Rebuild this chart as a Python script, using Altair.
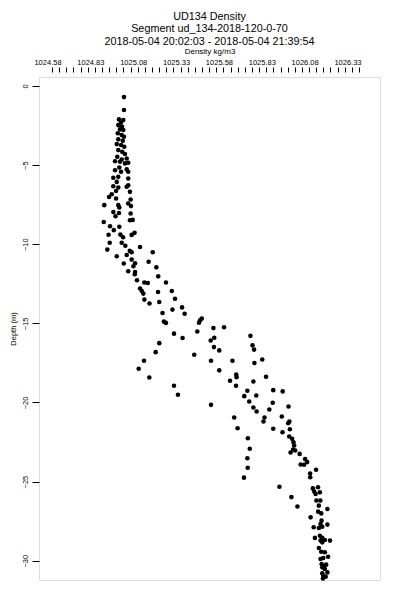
import altair as alt
import pandas as pd

FONT = "Liberation Sans"

# ---- data (density kg/m3, depth m) ----
density_upper = [1025.023, 1025.023, 1024.994, 1025.019, 1025.006, 1024.990, 1025.012, 1025.000, 1025.019, 1024.987,
                 1025.010, 1025.023, 1024.990, 1025.016, 1024.981, 1025.006, 1025.025, 1024.990, 1025.013, 1025.029,
                 1024.984, 1025.010, 1025.039, 1024.971, 1025.000, 1025.029, 1025.048, 1024.996, 1025.039, 1024.971,
                 1025.006, 1025.048, 1024.961, 1024.990, 1025.048, 1024.981, 1024.961, 1024.990, 1025.048, 1025.039,
                 1024.977, 1025.058, 1024.952, 1024.936, 1024.977, 1025.062]
depth_upper = [-0.70, -1.52, -2.11, -2.15, -2.32, -2.47, -2.58, -2.74, -2.78, -2.99,
               -3.10, -3.21, -3.37, -3.46, -3.67, -3.73, -3.84, -4.05, -4.16, -4.30,
               -4.47, -4.64, -4.58, -4.75, -4.79, -4.89, -4.85, -5.15, -5.27, -5.32,
               -5.42, -5.42, -5.80, -5.74, -5.84, -6.06, -6.33, -6.41, -6.27, -6.37,
               -6.63, -6.69, -6.84, -7.01, -7.11, -7.17]

density_mid = [1024.908, 1024.990, 1025.048, 1024.996, 1025.064, 1024.961, 1024.994, 1024.974, 1025.062, 1025.058,
               1025.074, 1024.905, 1024.942, 1024.996, 1024.964, 1024.933, 1025.002, 1025.018, 1025.068, 1025.085,
               1024.940, 1025.010, 1025.031, 1025.117, 1024.926, 1025.057, 1025.068, 1025.191, 1024.981, 1025.039,
               1025.068, 1025.167, 1025.022, 1025.088, 1025.078, 1025.212, 1025.048, 1025.088, 1025.086, 1025.223,
               1025.099, 1025.142, 1025.162, 1025.268, 1025.117, 1025.127, 1025.222, 1025.302, 1025.136, 1025.321,
               1025.142]
depth_mid = [-7.53, -7.53, -7.42, -7.68, -7.59, -7.97, -8.02, -8.23, -8.06, -8.48,
             -8.46, -8.59, -8.86, -8.89, -9.11, -9.40, -9.39, -9.56, -9.41, -9.28,
             -9.91, -9.91, -10.09, -10.17, -10.34, -10.42, -10.51, -10.51, -10.76, -10.68,
             -10.97, -11.11, -11.22, -11.20, -11.39, -11.46, -11.71, -11.75, -11.90, -12.03,
             -12.28, -12.42, -12.45, -12.42, -12.80, -12.96, -13.02, -12.96, -13.12, -13.44,
             -13.50]

density_band = [1025.172, 1025.229, 1025.248, 1025.306, 1025.362, 1025.377, 1025.256, 1025.268, 1025.467, 1025.477,
                1025.461, 1025.545, 1025.607, 1025.451, 1025.315, 1025.365, 1025.529, 1025.550, 1025.761, 1025.773,
                1025.782, 1025.229, 1025.548, 1025.579, 1025.208, 1025.433, 1025.140, 1025.531, 1025.656, 1025.784,
                1025.830, 1025.109, 1025.579, 1025.678, 1025.680, 1025.852, 1025.171, 1025.642, 1025.778, 1025.677,
                1025.315, 1025.743, 1025.894, 1025.949, 1025.338, 1025.725, 1025.795, 1025.754, 1025.891, 1025.531,
                1025.778, 1025.797, 1025.871, 1025.983, 1025.666, 1025.843, 1025.837, 1025.944, 1025.988, 1025.981]
depth_band = [-13.75, -13.65, -14.35, -14.13, -13.99, -14.39, -14.89, -14.97, -14.81, -14.70,
              -14.96, -15.30, -15.25, -15.51, -15.65, -15.93, -16.08, -15.91, -15.79, -16.39,
              -16.66, -16.25, -16.50, -16.71, -16.82, -16.98, -17.36, -17.36, -17.36, -17.51,
              -17.28, -17.87, -17.97, -18.23, -18.40, -18.37, -18.42, -18.63, -18.67, -18.94,
              -18.94, -19.26, -19.22, -19.30, -19.51, -19.60, -19.56, -19.94, -20.02, -20.15,
              -20.32, -20.57, -20.44, -20.25, -20.95, -20.95, -21.20, -20.89, -21.20, -21.31]

density_deep = [1025.686, 1025.894, 1025.948, 1025.991, 1025.746, 1025.987, 1026.004, 1026.012, 1026.016, 1026.010,
                1026.022, 1025.995, 1026.048, 1025.757, 1025.743, 1025.745, 1025.723, 1026.054, 1026.074, 1026.080,
                1026.092, 1026.144, 1026.109, 1026.110, 1025.930, 1026.125, 1026.155, 1026.133, 1026.166, 1026.141,
                1026.000, 1026.146, 1026.169, 1026.160, 1026.035, 1026.210, 1026.156, 1026.174, 1026.112, 1026.176,
                1026.170, 1026.210, 1026.130, 1026.160, 1026.180, 1026.166, 1026.180, 1026.137, 1026.195, 1026.225,
                1026.170, 1026.180, 1026.160, 1026.174, 1026.195, 1026.214, 1026.170, 1026.186, 1026.176, 1026.190,
                1026.203, 1026.180, 1026.195, 1026.210, 1026.180, 1026.186, 1026.200, 1026.184]
depth_deep = [-21.63, -21.66, -21.88, -21.69, -22.26, -22.15, -22.30, -22.51, -22.72, -22.97,
              -23.04, -23.16, -23.25, -22.92, -23.53, -24.13, -24.75, -23.92, -23.94, -23.58,
              -23.77, -24.25, -24.49, -24.73, -25.33, -25.43, -25.36, -25.63, -25.68, -25.78,
              -25.98, -26.20, -26.20, -26.52, -26.58, -26.73, -26.90, -27.01, -27.26, -27.47,
              -27.68, -27.72, -27.89, -27.93, -27.85, -28.42, -28.56, -28.56, -28.69, -28.73,
              -28.73, -28.84, -29.20, -29.43, -29.47, -29.75, -29.89, -29.83, -30.21, -30.32,
              -30.25, -30.42, -30.53, -30.74, -30.80, -30.95, -31.01, -31.12]

# ---- axis text ----
x_label_values = [1024.58, 1024.83, 1025.08, 1025.33, 1025.58, 1025.83, 1026.08, 1026.33]
x_label_text = ["1024.58", "1024.83", "1025.08", "1025.33", "1025.58", "1025.83", "1026.08", "1026.33"]
x_tick_values = [1024.603, 1024.645, 1024.687, 1024.728, 1024.770, 1024.812, 1024.853, 1024.895, 1024.937, 1024.978,
                 1025.020, 1025.062, 1025.103, 1025.145, 1025.187, 1025.228, 1025.270, 1025.312, 1025.353, 1025.395,
                 1025.437, 1025.478, 1025.520, 1025.562, 1025.603, 1025.645, 1025.687, 1025.728, 1025.770, 1025.812,
                 1025.853, 1025.895, 1025.937, 1025.978, 1026.020, 1026.062, 1026.103, 1026.145, 1026.187, 1026.228,
                 1026.270, 1026.312, 1026.353, 1026.395]
y_tick_values = [0, -5, -10, -15, -20, -25, -30]
title_lines = ["UD134 Density", "Segment ud_134-2018-120-0-70", "2018-05-04 20:02:03 - 2018-05-04 21:39:54"]
x_title = "Density kg/m3"
y_title = "Depth (m)"

dens_all = density_upper + density_mid + density_band + density_deep
depth_all = depth_upper + depth_mid + depth_band + depth_deep
pairs = list(zip(dens_all, depth_all))
df = pd.DataFrame({"density": [p[0] for p in pairs], "depth": [p[1] for p in pairs]})
label_df = pd.DataFrame({"value": x_label_values, "text": x_label_text})

xscale = alt.Scale(domain=[1024.5274, 1026.5168], nice=False, zero=False)
yscale = alt.Scale(domain=[-31.22, 0.57], nice=False, zero=False)

x_axis = alt.Axis(orient="top", values=x_tick_values, labels=False, tickSize=5, offset=5,
                  domain=False, grid=False, title=x_title, titleFontSize=8, titleFont=FONT,
                  titleFontWeight="normal", titleColor="black", titlePadding=11, tickColor="black")
y_axis = alt.Axis(values=y_tick_values, labelAngle=270, labelAlign="center", labelBaseline="bottom",
                  tickSize=7, labelPadding=3, domain=False, grid=False, labelFontSize=7.5,
                  labelFont=FONT, labelColor="black", tickColor="black", title=y_title,
                  titleFontSize=7.5, titleFont=FONT, titleFontWeight="normal", titleColor="black",
                  titlePadding=4)

points = alt.Chart(df).mark_point(shape="circle", filled=True, size=21, color="black", opacity=1).encode(
    x=alt.X("density:Q", scale=xscale, axis=x_axis),
    y=alt.Y("depth:Q", scale=yscale, axis=y_axis),
)

labels = alt.Chart(label_df).mark_text(fontSize=7.5, font=FONT, baseline="middle", align="center",
                                       color="black").encode(
    x=alt.X("value:Q", scale=xscale, axis=x_axis),
    y=alt.value(-14),
    text="text:N",
)

chart = alt.layer(points, labels).properties(
    width=341,
    height=503,
    title=alt.TitleParams(text=title_lines, fontSize=10.8, font=FONT, fontWeight="normal",
                          anchor="middle", frame="group", lineHeight=12.5, offset=1, color="black"),
    autosize=alt.AutoSizeParams(type="none"),
    padding={"left": 31, "top": 69, "right": 10, "bottom": 5},
).configure_view(stroke="black", strokeWidth=1).configure(background="white")

chart.save("out.html", embed_options={"renderer": "svg", "actions": False})
